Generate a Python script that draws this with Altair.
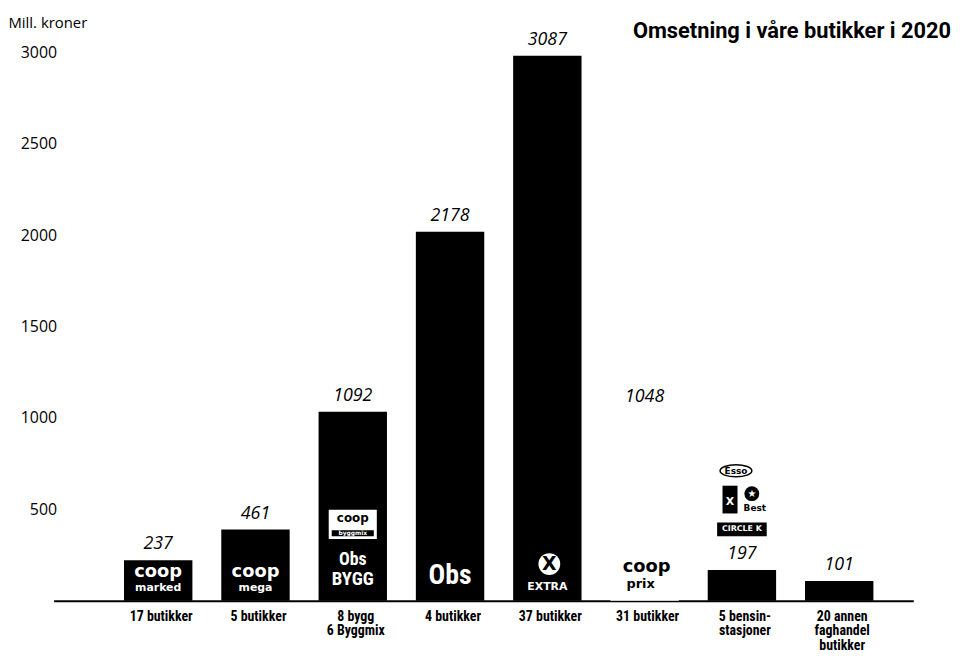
import altair as alt
import pandas as pd

# ---- data ----
categories = ["17 butikker", "5 butikker", "8 bygg|6 Byggmix", "4 butikker",
              "37 butikker", "31  butikker", "5 bensin-|stasjoner",
              "20 annen|faghandel|butikker"]
bar_heights = [222, 390, 1034, 2018, 2982, 1025, 168, 108]
value_labels = ["237", "461", "1092", "2178", "3087", "1048", "197", "101"]
bar_drawn = [True, True, True, True, True, False, True, True]
y_ticks = [500, 1000, 1500, 2000, 2500, 3000]

# logo words (approximations of the brand logos)
coop_white_cats = [categories[0], categories[1]]
coop_white_words = ["coop", "coop"]
coop_white_subs = ["marked", "mega"]
obsbygg_cat = [categories[2]]
obs_cat = [categories[3]]
extra_cat = [categories[4]]
prix_cat = [categories[5]]
fuel_cat = [categories[6]]

NARROW = "Roboto Condensed, Liberation Sans Narrow, Roboto, sans-serif"
ROUND = "DejaVu Sans, sans-serif"

xscale = alt.Scale(domain=categories, paddingInner=0.297, paddingOuter=0.567, align=0.638)
yscale = alt.Scale(domain=[0, 3000], nice=False)

xaxis = alt.Axis(title=None, labelExpr="split(datum.label, '|')", labelFont=NARROW,
                 labelFontWeight="bold", labelFontSize=14, labelColor="black",
                 labelLineHeight=14.5, labelBaseline="top", labelPadding=9, labelAngle=0,
                 labelOffset=3, ticks=False, tickSize=0, domain=True, domainColor="black",
                 domainWidth=2, grid=False, labelAlign="center")
yaxis = alt.Axis(values=y_ticks, format="d", title="Mill. kroner", titleAngle=0,
                 titleAlign="left", titleBaseline="middle", titleX=-46, titleY=-30,
                 titleFont="Open Sans", titleFontSize=15, titleFontWeight="normal",
                 titleColor="black", labelFont="Open Sans", labelFontSize=16,
                 labelColor="black", grid=False, domain=False, ticks=False, tickSize=0,
                 labelPadding=-3)

X = alt.X("cat:N", scale=xscale, axis=xaxis)
Y0 = alt.YDatum(0, scale=yscale, axis=yaxis)

bars_df = pd.DataFrame({"cat": categories, "h": bar_heights,
                        "lbl": value_labels, "shown": bar_drawn})

bars = alt.Chart(bars_df).mark_bar(stroke=None).encode(
    x=X,
    y=alt.Y("h:Q", scale=yscale, axis=yaxis),
    color=alt.condition("datum.shown", alt.value("black"), alt.value("white")),
)
labels = alt.Chart(bars_df).mark_text(
    font="Open Sans", fontStyle="italic", fontSize=18, dy=-16,
    baseline="middle", color="black"
).encode(x=X, y=alt.Y("h:Q", scale=yscale, axis=yaxis), text="lbl:N")


def words(cats, texts, **mark):
    df = pd.DataFrame({"cat": cats, "t": texts})
    return alt.Chart(df).mark_text(baseline="middle", **mark).encode(x=X, y=Y0, text="t:N")


def shape(cats, **mark):
    df = pd.DataFrame({"cat": cats})
    return alt.Chart(df).mark_point(filled=True, opacity=1, **mark).encode(x=X, y=Y0)


RECT = "M-1,-{h}L1,-{h}L1,{h}L-1,{h}Z"
layers = [
    bars, labels,
    # coop marked / coop mega
    words(coop_white_cats, coop_white_words, font=ROUND, fontWeight="bold", fontSize=18,
          color="white", dy=-29),
    words(coop_white_cats, coop_white_subs, font=ROUND, fontWeight="bold", fontSize=11,
          color="white", dy=-13),
    # coop byggmix box + Obs BYGG
    shape(obsbygg_cat, shape=RECT.format(h=0.62), size=2500, fill="white",
          stroke="black", strokeWidth=1.5, yOffset=-77),
    shape(obsbygg_cat, shape=RECT.format(h=0.14), size=1800, fill="black", yOffset=-68),
    words(obsbygg_cat, ["coop"], font=ROUND, fontWeight="bold", fontSize=12,
          color="black", dy=-83),
    words(obsbygg_cat, ["byggmix"], font=ROUND, fontWeight="bold", fontSize=6,
          color="white", dy=-68),
    words(obsbygg_cat, ["Obs"], font=NARROW, fontWeight="bold", fontSize=18,
          color="white", dy=-41),
    words(obsbygg_cat, ["BYGG"], font=NARROW, fontWeight="bold", fontSize=19,
          color="white", dy=-22),
    # Obs
    words(obs_cat, ["Obs"], font=NARROW, fontWeight="bold", fontSize=28,
          color="white", dy=-25),
    # Extra
    shape(extra_cat, shape="circle", size=484, fill="white", yOffset=-37, xOffset=2),
    words(extra_cat, ["X"], font=ROUND, fontWeight="bold", fontSize=19,
          color="black", dy=-37, dx=2),
    words(extra_cat, ["EXTRA"], font=ROUND, fontWeight="bold", fontSize=11,
          color="white", dy=-14),
    # coop prix (no bar drawn)
    words(prix_cat, ["coop"], font=ROUND, fontWeight="bold", fontSize=18,
          color="black", dy=-34, dx=2),
    words(prix_cat, ["prix"], font=ROUND, fontWeight="bold", fontSize=13,
          color="black", dy=-17, dx=-4),
    # fuel station logos
    shape(fuel_cat, shape="M-1,0A1,0.38,0,1,0,1,0A1,0.38,0,1,0,-1,0Z", size=1024,
          fill="white", stroke="black", strokeWidth=1.5, yOffset=-131, xOffset=-6),
    words(fuel_cat, ["Esso"], font=ROUND, fontWeight="bold", fontSize=9,
          color="black", dy=-131, dx=-6),
    shape(fuel_cat, shape="M-0.54,-1L0.54,-1L0.54,1L-0.54,1Z", size=784,
          fill="black", yOffset=-102, xOffset=-12),
    words(fuel_cat, ["X"], font=ROUND, fontWeight="bold", fontSize=11,
          color="white", dy=-100, dx=-12),
    shape(fuel_cat, shape="circle", size=225, fill="black", yOffset=-108, xOffset=10),
    words(fuel_cat, ["★"], font=ROUND, fontSize=10, color="white", dy=-108, dx=10),
    words(fuel_cat, ["Best"], font=ROUND, fontWeight="bold", fontSize=9,
          color="black", dy=-93, dx=13),
    shape(fuel_cat, shape=RECT.format(h=0.28), size=2500, fill="black", yOffset=-72),
    words(fuel_cat, ["CIRCLE K"], font=ROUND, fontWeight="bold", fontSize=8,
          color="white", dy=-72),
]

chart = alt.layer(*layers).properties(
    width=867, height=553, autosize="none",
    padding={"left": 46, "top": 42, "right": 39, "bottom": 54},
    title=alt.TitleParams("Omsetning i våre butikker i 2020", anchor="end", frame="group",
                          font="Roboto, sans-serif", fontSize=22, fontWeight="bold",
                          color="black", dx=38, offset=-28),
).configure(background="white").configure_view(stroke=None)

chart.save("out.html", embed_options={"renderer": "svg", "actions": False})
